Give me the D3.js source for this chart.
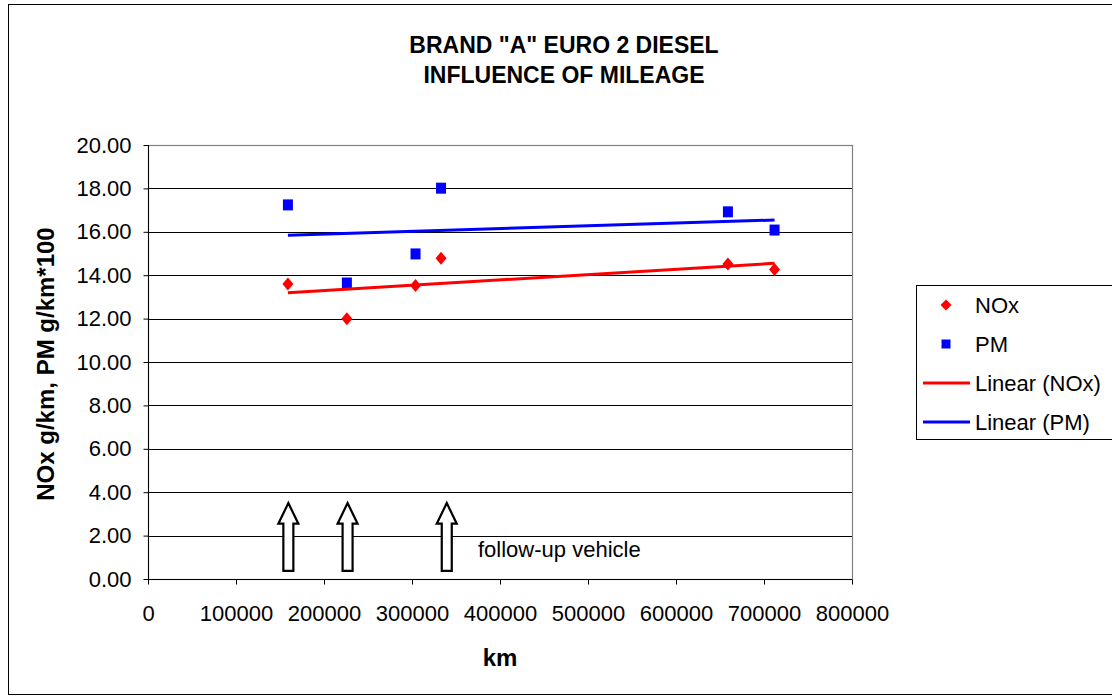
<!DOCTYPE html>
<html><head><meta charset="utf-8">
<script src="https://cdn.jsdelivr.net/npm/d3@7"></script>
<style>body{margin:0;background:#fff;}svg{display:block;font-family:"Liberation Sans",Arial,sans-serif;}</style>
</head><body><svg id="c" width="1112" height="698"></svg>
<script>
const titleLines = ['BRAND "A" EURO 2 DIESEL', 'INFLUENCE OF MILEAGE'];
const mileage = [159000, 226000, 304000, 333000, 659000, 712000];
const noxValues = [13.60, 11.99, 13.52, 14.78, 14.52, 14.26];
const pmValues = [17.24, 13.64, 14.98, 18.01, 16.92, 16.08];
const xTicks = [0, 100000, 200000, 300000, 400000, 500000, 600000, 700000, 800000];
const yTicks = [0, 2, 4, 6, 8, 10, 12, 14, 16, 18, 20];
const arrowX = [159500, 226800, 339500];
const legendLabels = ["NOx", "PM", "Linear (NOx)", "Linear (PM)"];
const noteText = "follow-up vehicle";

const svg = d3.select("#c");
const L = 148, R = 852, T = 145, B = 579;
const x = d3.scaleLinear().domain([0, 800000]).range([L, R]);
const y = d3.scaleLinear().domain([0, 20]).range([B, T]);

svg.append("rect").attr("x", 8.5).attr("y", 4.5).attr("width", 1120).attr("height", 690)
  .attr("fill", "#fff").attr("stroke", "#000").attr("stroke-width", 1);

// title
svg.append("g").selectAll("text").data(titleLines).join("text")
  .attr("x", 564).attr("y", (d, i) => 53 + i * 30)
  .attr("text-anchor", "middle").attr("font-size", 23).attr("font-weight", "bold")
  .text(d => d);

// gridlines
svg.append("g").selectAll("line").data(yTicks.filter(v => v > 0)).join("line")
  .attr("x1", L).attr("x2", R).attr("y1", d => Math.round(y(d)) + 0.5).attr("y2", d => Math.round(y(d)) + 0.5)
  .attr("stroke", "#000").attr("stroke-width", 1);

// plot border
svg.append("rect").attr("x", L + 0.5).attr("y", T + 0.5).attr("width", R - L).attr("height", B - T)
  .attr("fill", "none").attr("stroke", "#808080").attr("stroke-width", 1.2);

// axes
const yAxis = d3.axisLeft(y).tickValues(yTicks).tickSize(5).tickPadding(12).tickFormat(d3.format(".2f"));
const gy = svg.append("g").attr("transform", `translate(${L + 0.5},0)`).call(yAxis);
const xAxis = d3.axisBottom(x).tickValues(xTicks).tickSize(5).tickPadding(21).tickFormat(d3.format("d"));
const gx = svg.append("g").attr("transform", `translate(0,${B + 0.5})`).call(xAxis);
[gy, gx].forEach(g => {
  g.select(".domain").attr("stroke", "#000");
  g.selectAll(".tick line").attr("stroke", "#000");
  g.selectAll(".tick text").attr("font-size", 22).attr("fill", "#000")
    .attr("font-family", "'Liberation Sans',Arial,sans-serif");
});
gy.select(".domain").attr("d", `M0,${T}V${B}`);
gx.select(".domain").attr("d", `M${L},0H${R}`);

// axis titles
svg.append("text").attr("x", 500).attr("y", 666).attr("text-anchor", "middle")
  .attr("font-size", 24).attr("font-weight", "bold").text("km");
svg.append("text").attr("transform", "translate(54,364) rotate(-90)").attr("text-anchor", "middle")
  .attr("font-size", 24).attr("font-weight", "bold").text("NOx g/km,  PM g/km*100");

// regression lines
function fit(xs, ys) {
  const mx = d3.mean(xs), my = d3.mean(ys);
  let sxy = 0, sxx = 0;
  xs.forEach((v, i) => { sxy += (v - mx) * (ys[i] - my); sxx += (v - mx) * (v - mx); });
  const b = sxy / sxx;
  return v => my + b * (v - mx);
}
const xMin = d3.min(mileage), xMax = d3.max(mileage);
const series = [
  {vals: noxValues, color: "#ff0000", shape: "diamond"},
  {vals: pmValues, color: "#0000ff", shape: "square"}
];
const line = d3.line().x(d => x(d[0])).y(d => y(d[1]));
const diamond = "M0,-6.5L5.5,0L0,6.5L-5.5,0Z";
const square = "M-5,-5.5H5V5.5H-5Z";
series.forEach(s => {
  svg.append("g").selectAll("path").data(mileage.map((m, i) => [m, s.vals[i]])).join("path")
    .attr("d", s.shape === "diamond" ? diamond : square)
    .attr("transform", d => `translate(${x(d[0])},${y(d[1])})`)
    .attr("fill", s.color);
});
series.forEach(s => {
  const f = fit(mileage, s.vals);
  svg.append("path").attr("d", line([[xMin, f(xMin)], [xMax, f(xMax)]]))
    .attr("stroke", s.color).attr("stroke-width", 3).attr("fill", "none");
});

// arrows
const aTop = 3.5, aBase = 2.55, aBot = 0.37;
svg.append("g").selectAll("path").data(arrowX).join("path")
  .attr("d", d => {
    const cx = x(d), t = y(aTop), hb = y(aBase), b = y(aBot);
    return `M${cx - 5},${b}V${hb}H${cx - 10}L${cx},${t}L${cx + 10},${hb}H${cx + 5}V${b}Z`;
  })
  .attr("fill", "#fff").attr("stroke", "#000").attr("stroke-width", 2.2).attr("stroke-linejoin", "miter");
svg.append("text").attr("x", 478).attr("y", 557).attr("font-size", 22).text(noteText);

// legend
const lg = svg.append("g");
lg.append("rect").attr("x", 916.5).attr("y", 285.5).attr("width", 210).attr("height", 154)
  .attr("fill", "#fff").attr("stroke", "#000");
const ly = [305, 344, 383, 422];
legendLabels.forEach((lab, i) => {
  const yy = ly[i];
  if (i === 0) lg.append("path").attr("d", "M0,-5.5L5.5,0L0,5.5L-5.5,0Z").attr("transform", `translate(946,${yy})`).attr("fill", "#ff0000");
  else if (i === 1) lg.append("path").attr("d", "M-4.5,-4.5H4.5V4.5H-4.5Z").attr("transform", `translate(946,${yy})`).attr("fill", "#0000ff");
  else lg.append("line").attr("x1", 923).attr("x2", 970).attr("y1", yy).attr("y2", yy)
    .attr("stroke", i === 2 ? "#ff0000" : "#0000ff").attr("stroke-width", 3);
  lg.append("text").attr("x", 975).attr("y", yy + 8).attr("font-size", 22).text(lab);
});
</script></body></html>
